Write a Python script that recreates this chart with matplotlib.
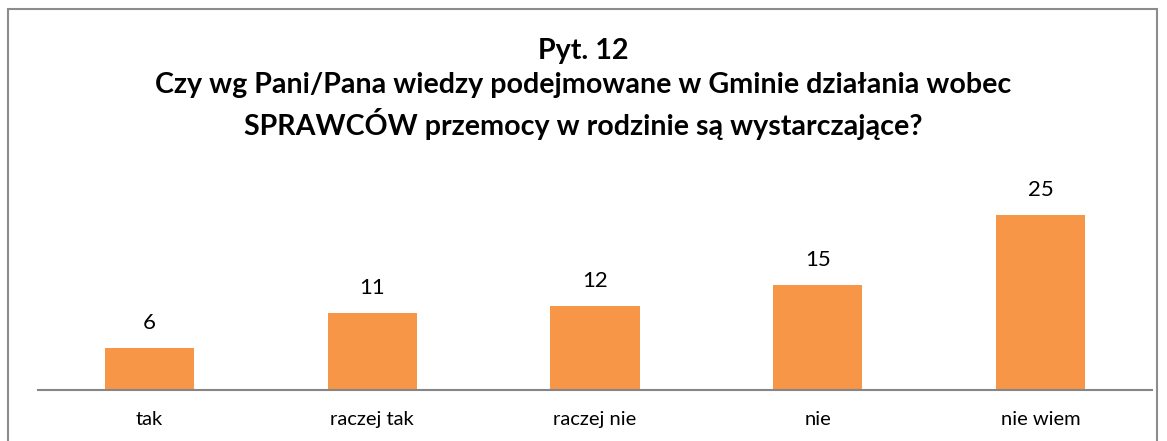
import matplotlib
matplotlib.use("Agg")
import matplotlib.pyplot as plt
from matplotlib.patches import Rectangle

categories = ["tak", "raczej tak", "raczej nie", "nie", "nie wiem"]
values = [6, 11, 12, 15, 25]
title = "Pyt. 12\nCzy wg Pani/Pana wiedzy podejmowane w Gminie działania wobec\nSPRAWCÓW przemocy w rodzinie są wystarczające?"

plt.rcParams['font.family'] = ['Lato', 'DejaVu Sans']

W, H = 1167, 441
fig = plt.figure(figsize=(W / 100, H / 100), dpi=100)
fig.patch.set_facecolor("white")

# outer border
fig.add_artist(Rectangle((8 / W, -0.05), (1157 - 8) / W, 1.05 - 9 / H,
                         transform=fig.transFigure, fill=False,
                         edgecolor="#8c8c8c", linewidth=1.5))

ax = fig.add_axes([38 / W, 1 - 390 / H, (1152 - 38) / W, (390 - 180) / H])
x = range(len(categories))
bars = ax.bar(x, values, width=0.4, color="#F79646")
ax.set_xlim(-0.5, len(categories) - 0.5)
ax.set_ylim(0, 30)
for b, v in zip(bars, values):
    ax.annotate(str(v), (b.get_x() + b.get_width() / 2, v), xytext=(0, 11),
                textcoords="offset points", ha="center", va="bottom",
                fontsize=16, color="#000000")
ax.set_xticks(list(x))
ax.set_xticklabels(categories, fontsize=14.5)
ax.tick_params(axis="x", length=0, pad=15)
ax.set_yticks([])
for s in ["left", "right", "top"]:
    ax.spines[s].set_visible(False)
ax.spines["bottom"].set_color("#868686")
ax.spines["bottom"].set_linewidth(1.5)

fig.text(0.5, 1 - 89 / H, title, ha="center", va="center", fontsize=20.6,
         fontweight="bold", linespacing=1.38)

fig.savefig("out.png", dpi=100)
